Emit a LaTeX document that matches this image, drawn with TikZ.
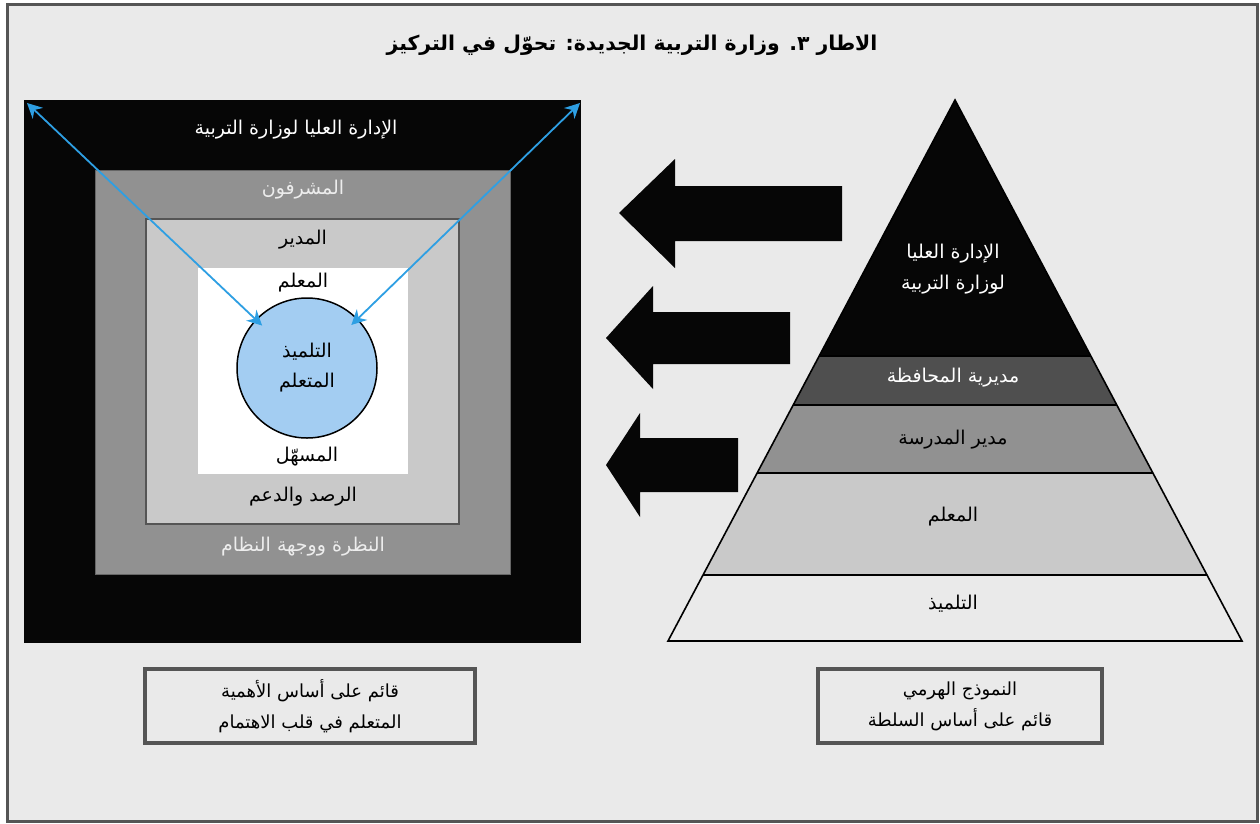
\documentclass[tikz,border=0pt]{standalone}
\usepackage{fontspec}
\TeXXeTstate=1
\newfontfamily\arabicfont[Script=Arabic]{DejaVu Sans}
\newcommand{\ar}[1]{{\arabicfont\beginR #1\endR}}
\usetikzlibrary{arrows.meta}
\definecolor{bg}{HTML}{EAEAEA}
\definecolor{blk}{HTML}{060606}
\definecolor{gmid}{HTML}{919191}
\definecolor{glight}{HTML}{C9C9C9}
\definecolor{gdark}{HTML}{4F4F4F}
\definecolor{framec}{HTML}{555555}
\definecolor{circfill}{HTML}{A3CDF2}
\definecolor{arrblue}{HTML}{2E9FE3}
\definecolor{paleT}{HTML}{EDEDED}
\begin{document}
\begin{tikzpicture}[x=1pt,y=-1pt,
  lbl/.style={inner sep=1pt, align=center, font=\fontsize{19}{31}\selectfont},
  ttl/.style={inner sep=1pt, font=\fontsize{20.4}{26}\selectfont\bfseries},
  bluearrow/.style={draw=arrblue, line width=1.8, shorten >=-9, {Stealth[length=15,width=15]}-{Stealth[length=15,width=15]}},
  bigarrow/.style={fill=blk},
  layer/.style={draw=black, line width=1.6},
  capbox/.style={draw=framec, line width=4, fill=bg, minimum width=330, minimum height=74, align=center, font=\fontsize{18}{31}\selectfont}
]
\useasboundingbox (0,0) rectangle (1260,823);
\fill[white] (0,0) rectangle (1260,823);
\draw[framec, line width=3, fill=bg] (7,4) rectangle (1257,821);

% title
\node[ttl] (title) at (632,45) {\ar{الاطار ٣. وزارة التربية الجديدة: تحوّل في التركيز}};

% left nested squares
\fill[blk] (24,100) rectangle (581,643);
\draw[fill=gmid, draw=gray!80!black, line width=0.8] (95,170) rectangle (510,574);
\draw[fill=glight, draw=framec, line width=1.5] (146,219) rectangle (459,524);
\fill[white] (198,268) rectangle (408,474);
\node[circle, draw=black, fill=circfill, minimum size=140, inner sep=0, line width=1.5, align=center, font=\fontsize{19}{30}\selectfont] (stud) at (307,368) {\ar{التلميذ}\\\ar{المتعلم}};

\coordinate (cornerL) at (27,103);
\coordinate (cornerR) at (580,103);
\draw[bluearrow] (cornerL) -- (stud);
\draw[bluearrow] (cornerR) -- (stud);

\node[lbl, text=white] (topadmin) at (296,130) {\ar{الإدارة العليا لوزارة التربية}};
\node[lbl, text=paleT] (superv) at (303,190) {\ar{المشرفون}};
\node[lbl] (director) at (303,240) {\ar{المدير}};
\node[lbl] (teacher) at (303,283) {\ar{المعلم}};
\node[lbl] (facil) at (307,457) {\ar{المسهّل}};
\node[lbl] (monitor) at (303,497) {\ar{الرصد والدعم}};
\node[lbl, text=paleT] (vision) at (303,547) {\ar{النظرة ووجهة النظام}};

% big black arrows
\fill[bigarrow] (619,213) -- (675,159) -- (675,186) -- (842,186) -- (842,241) -- (675,241) -- (675,268) -- cycle;
\fill[bigarrow] (606,338) -- (653,286) -- (653,312) -- (790,312) -- (790,364) -- (653,364) -- (653,389) -- cycle;
\fill[bigarrow] (606,465) -- (640,413) -- (640,438) -- (738,438) -- (738,492) -- (640,492) -- (640,517) -- cycle;

% pyramid
\fill[blk] (955,100) -- (1090.8,356) -- (819.2,356) -- cycle;
\fill[gdark] (819.2,356) -- (1090.8,356) -- (1116.8,405) -- (793.2,405) -- cycle;
\fill[gmid] (793.2,405) -- (1116.8,405) -- (1152.9,473) -- (757.1,473) -- cycle;
\fill[glight] (757.1,473) -- (1152.9,473) -- (1207,575) -- (703,575) -- cycle;
\fill[bg] (703,575) -- (1207,575) -- (1242,641) -- (668,641) -- cycle;
\draw[layer] (819.2,356) -- (1090.8,356);
\draw[layer] (793.2,405) -- (1116.8,405);
\draw[layer] (757.1,473) -- (1152.9,473);
\draw[layer] (703,575) -- (1207,575);
\draw[layer, line join=miter] (955,100) -- (1242,641) -- (668,641) -- cycle;

\node[lbl, text=white] (ptop) at (953,269) {\ar{الإدارة العليا}\\\ar{لوزارة التربية}};
\node[lbl, text=white] (pgov) at (953,378) {\ar{مديرية المحافظة}};
\node[lbl] (pschool) at (953,440) {\ar{مدير المدرسة}};
\node[lbl] (pteach) at (953,517) {\ar{المعلم}};
\node[lbl] (pstud) at (953,604) {\ar{التلميذ}};

% caption boxes
\node[capbox] (capL) at (310,706) {\ar{قائم على أساس الأهمية}\\\ar{المتعلم في قلب الاهتمام}};
\node[capbox, minimum width=284] (capR) at (960,706) {\ar{النموذج الهرمي}\\\ar{قائم على أساس السلطة}};
\end{tikzpicture}
\end{document}
